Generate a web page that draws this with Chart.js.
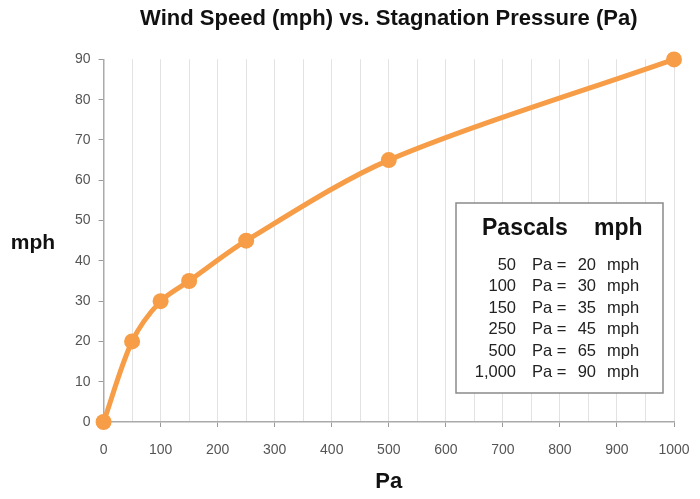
<!DOCTYPE html>
<html>
<head>
<meta charset="utf-8">
<script src="https://cdn.jsdelivr.net/npm/chart.js@4.4.1/dist/chart.umd.min.js"></script>
<style>
  html, body { margin: 0; padding: 0; background: #fff; }
  #wrap { width: 700px; height: 499px; position: relative; }
</style>
</head>
<body>
<div id="wrap"><canvas id="c" width="700" height="499"></canvas></div>
<script>
const pascals = [0, 50, 100, 150, 250, 500, 1000];
const mph = [0, 20, 30, 35, 45, 65, 90];
const tableHeader = ['Pascals', 'mph'];
const chartTitle = 'Wind Speed (mph) vs. Stagnation Pressure (Pa)';
const xTitle = 'Pa';
const yTitle = 'mph';

const ORANGE = '#F79D47';
const FONT = "'Liberation Sans', Arial, Helvetica, sans-serif";

const points = pascals.map((p, i) => ({ x: p, y: mph[i] }));

const fmt = n => n.toLocaleString('en-US');

const extras = {
  id: 'extras',
  afterDraw(chart) {
    const ctx = chart.ctx;
    const area = chart.chartArea;
    ctx.save();
    ctx.fillStyle = '#111';
    ctx.textAlign = 'center';
    ctx.textBaseline = 'middle';
    // y-axis title, horizontal
    ctx.font = 'bold 21px ' + FONT;
    ctx.fillText(yTitle, 33, 243);
    // x-axis title
    ctx.font = 'bold 22px ' + FONT;
    ctx.fillText(xTitle, (area.left + area.right) / 2, 482);

    // table box
    const bx = 456, by = 203, bw = 207, bh = 190;
    ctx.fillStyle = '#fff';
    ctx.fillRect(bx, by, bw, bh);
    ctx.strokeStyle = '#8a8a8a';
    ctx.lineWidth = 1.5;
    ctx.strokeRect(bx, by, bw, bh);

    ctx.fillStyle = '#111';
    ctx.font = 'bold 23px ' + FONT;
    ctx.textAlign = 'left';
    ctx.fillText(tableHeader[0], 482, 229);
    ctx.fillText(tableHeader[1], 594, 229);

    ctx.font = '16.5px ' + FONT;
    ctx.fillStyle = '#222';
    const rows = pascals.slice(1);
    rows.forEach((p, i) => {
      const y = 265 + i * 21.5;
      ctx.textAlign = 'right';
      ctx.fillText(fmt(p), 516, y);
      ctx.textAlign = 'left';
      ctx.fillText('Pa =', 532, y);
      ctx.textAlign = 'right';
      ctx.fillText(String(mph[i + 1]), 596, y);
      ctx.textAlign = 'left';
      ctx.fillText('mph', 607, y);
    });
    ctx.restore();
  }
};

new Chart(document.getElementById('c'), {
  type: 'line',
  data: {
    datasets: [{
      data: points,
      borderColor: ORANGE,
      backgroundColor: ORANGE,
      borderWidth: 5,
      pointRadius: 8,
      pointBorderWidth: 0,
      pointBackgroundColor: ORANGE,
      tension: 0.3,
      fill: false,
      clip: false
    }]
  },
  options: {
    responsive: false,
    animation: false,
    devicePixelRatio: 1,
    layout: { padding: { left: 67, right: 26, top: 6, bottom: 0 } },
    plugins: {
      legend: { display: false },
      tooltip: { enabled: false },
      title: {
        display: true,
        text: chartTitle,
        fullSize: false,
        color: '#111',
        font: { family: FONT, size: 22, weight: 'bold' },
        padding: { top: 0, bottom: 27 }
      }
    },
    scales: {
      x: {
        type: 'linear',
        min: 0, max: 1000,
        afterFit: s => { s.height = 77; s.paddingRight = 0; s.paddingLeft = 0; },
        ticks: {
          stepSize: 50,
          autoSkip: false,
          maxRotation: 0,
          color: '#555',
          font: { family: FONT, size: 14 },
          padding: 15,
          callback: v => (v % 100 === 0 ? String(v) : '')
        },
        grid: {
          color: '#e2e2e2',
          lineWidth: 1,
          drawTicks: true,
          tickLength: 5,
          tickColor: ctx => (ctx.tick && ctx.tick.value % 100 === 0 ? '#999' : 'rgba(0,0,0,0)')
        },
        border: { color: '#aaa', width: 1.5 }
      },
      y: {
        min: 0, max: 90,
        ticks: {
          stepSize: 10,
          color: '#555',
          font: { family: FONT, size: 14 },
          padding: 8
        },
        grid: {
          drawOnChartArea: false,
          drawTicks: true,
          tickLength: 5,
          tickColor: '#999'
        },
        border: { color: '#aaa', width: 1.5 }
      }
    }
  },
  plugins: [extras]
});
</script>
</body>
</html>
